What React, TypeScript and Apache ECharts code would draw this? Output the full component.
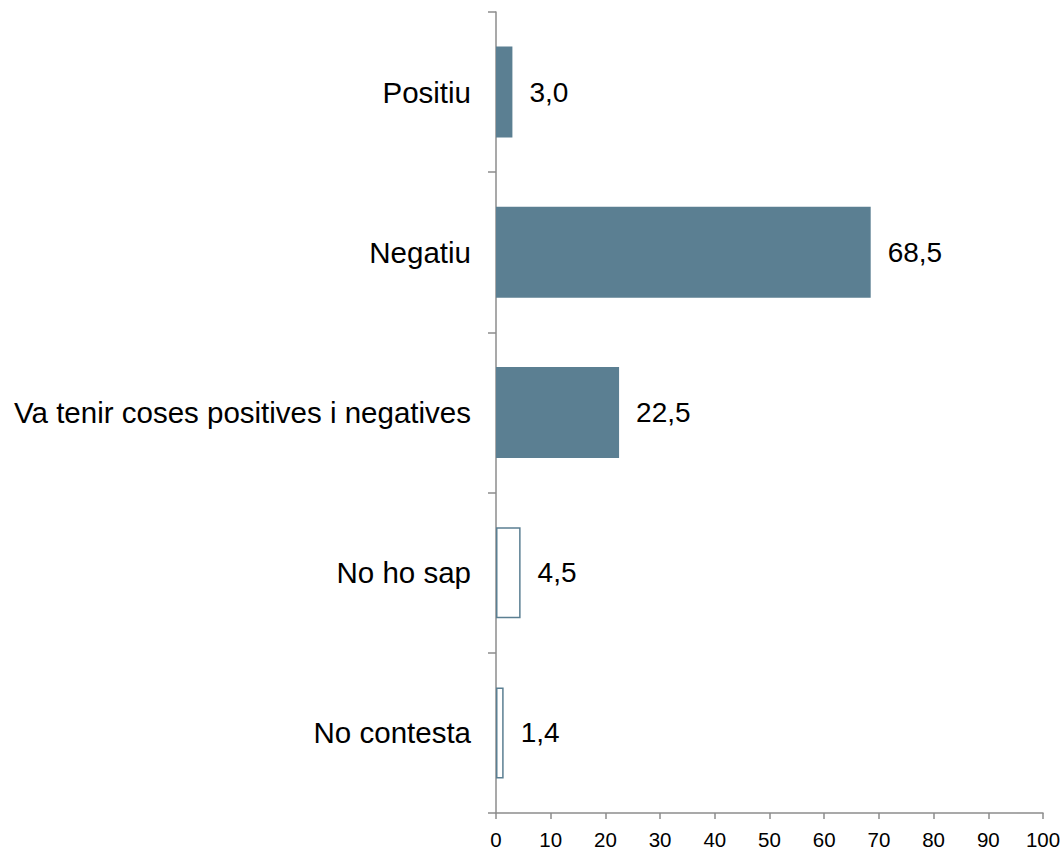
import React, { useEffect, useRef } from "react";
import * as echarts from "echarts";

const categories = [
  "Positiu",
  "Negatiu",
  "Va tenir coses positives i negatives",
  "No ho sap",
  "No contesta",
];
const values = [3.0, 68.5, 22.5, 4.5, 1.4];
const filled = [true, true, true, false, false];
const xTicks = [0, 10, 20, 30, 40, 50, 60, 70, 80, 90, 100];

const BAR = "#5B7F92";
const AXIS = "#8C8C8C";
const FONT = "Liberation Sans, Arial, sans-serif";

export default function App() {
  const ref = useRef<HTMLDivElement>(null);
  useEffect(() => {
    const chart = echarts.init(ref.current!, null, { renderer: "svg" });
    chart.setOption({
      animation: false,
      grid: { left: 496, right: 21, top: 12, bottom: 37, containLabel: false },
      xAxis: {
        type: "value",
        min: xTicks[0],
        max: xTicks[xTicks.length - 1],
        interval: 10,
        splitLine: { show: false },
        axisLine: { show: true, lineStyle: { color: AXIS, width: 1.5 } },
        axisTick: { show: true, length: 6, lineStyle: { color: AXIS, width: 1.5 } },
        axisLabel: { color: "#000", fontSize: 20.5, fontFamily: FONT, margin: 16 },
      },
      yAxis: {
        type: "category",
        data: categories,
        inverse: true,
        axisLine: { show: true, lineStyle: { color: AXIS, width: 1.5 } },
        axisTick: { show: true, length: 8, lineStyle: { color: AXIS, width: 1.5 } },
        axisLabel: { color: "#000", fontSize: 29.5, fontFamily: FONT, margin: 25 },
      },
      series: [
        {
          type: "bar",
          barWidth: 91,
          data: values.map((v, i) => ({
            value: v,
            itemStyle: filled[i]
              ? { color: BAR }
              : { color: "#fff", borderColor: BAR, borderWidth: 1.5 },
          })),
          label: {
            show: true,
            position: "right",
            distance: 17,
            color: "#000",
            fontSize: 28,
            fontFamily: FONT,
            formatter: (p: any) => p.value.toFixed(1).replace(".", ","),
          },
        },
      ],
    });
    return () => chart.dispose();
  }, []);
  return <div ref={ref} style={{ width: 1064, height: 850, position: "absolute", left: 0, top: 0 }} />;
}
